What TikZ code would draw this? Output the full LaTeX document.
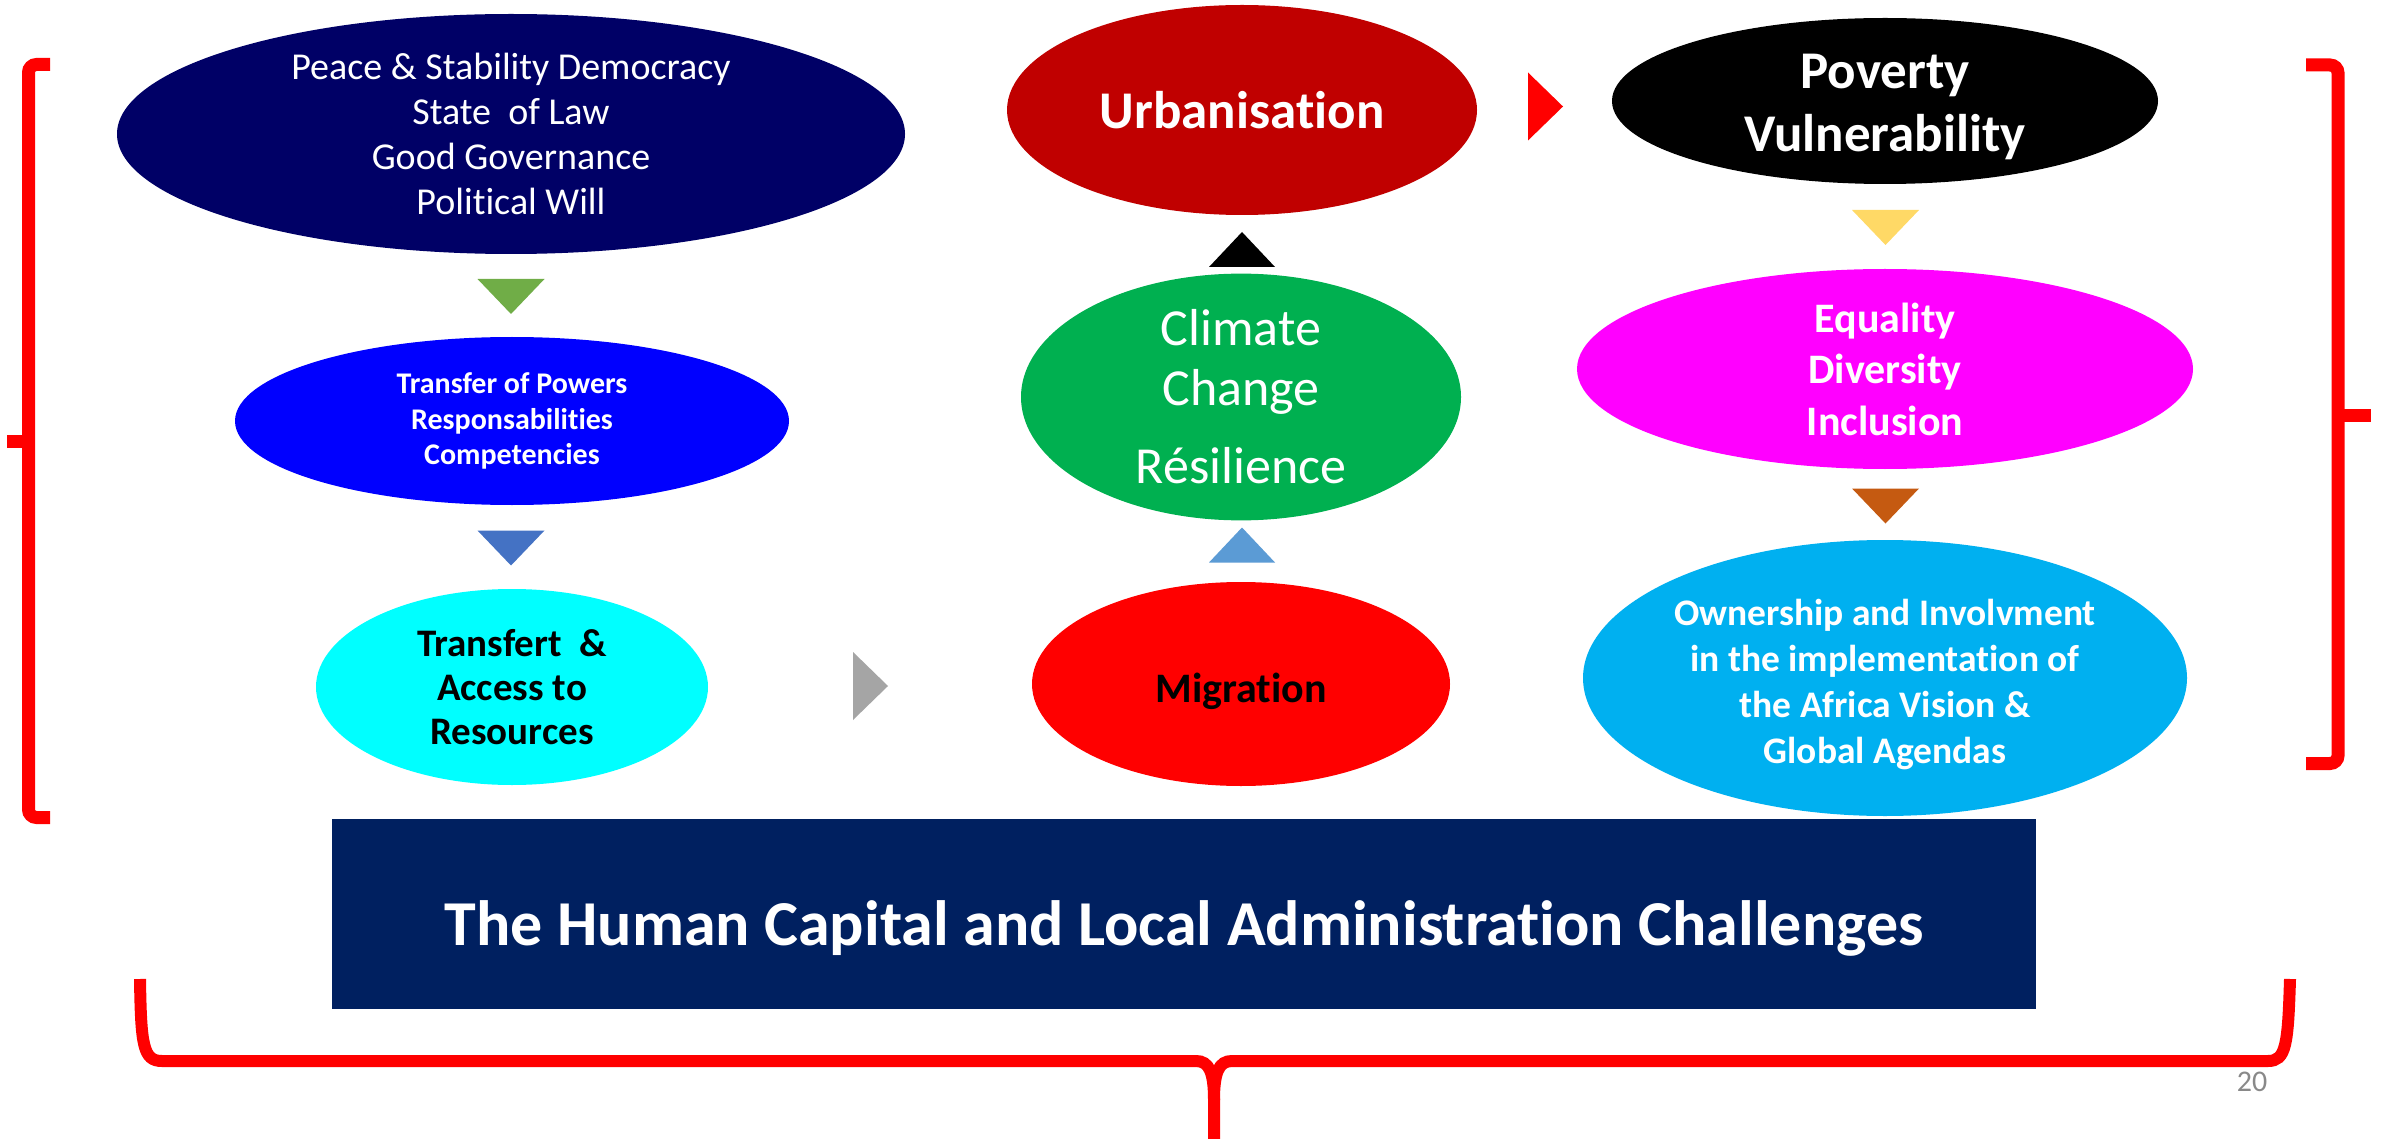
\documentclass[tikz,border=0pt]{standalone}
\usepackage{fontspec}
\setmainfont{Carlito}[Ligatures={NoCommon,NoContextual}]
\usetikzlibrary{shapes.geometric}
\definecolor{cNavy}{HTML}{000066}
\definecolor{cBlue}{HTML}{0000FF}
\definecolor{cCyan}{HTML}{00FFFF}
\definecolor{cRed}{HTML}{FF0000}
\definecolor{cGreen}{HTML}{00B050}
\definecolor{cDarkRed}{HTML}{C00000}
\definecolor{cMag}{HTML}{FF00FF}
\definecolor{cSky}{HTML}{00B0F0}
\definecolor{cBox}{HTML}{002060}
\definecolor{tGreen}{HTML}{70AD47}
\definecolor{tBlue}{HTML}{4472C4}
\definecolor{tGray}{HTML}{A5A5A5}
\definecolor{tLBlue}{HTML}{5B9BD5}
\definecolor{tYellow}{HTML}{FFD966}
\definecolor{tBrown}{HTML}{C55A11}
\definecolor{numGray}{HTML}{898989}
\tikzset{
  oval/.style={ellipse, inner sep=0pt, align=center},
  ovaltext/.style={inner sep=0pt, align=center},
  bracketline/.style={draw=cRed, line width=13pt},
  pics/tridown/.style={code={\fill (-33.5,-17.5) -- (33.5,-17.5) -- (0,17.5) -- cycle;}},
  pics/triup/.style={code={\fill (-33,17.5) -- (33,17.5) -- (0,-17.5) -- cycle;}},
  pics/triright/.style={code={\fill (-17.5,-34) -- (17.5,0) -- (-17.5,34) -- cycle;}},
}
\begin{document}
\begin{tikzpicture}[x=1pt,y=-1pt]
\useasboundingbox (0,0) rectangle (2385,1139);
\fill[white] (0,0) rectangle (2385,1139);

% left column
\node[oval, fill=cNavy, text=white, minimum width=788pt, minimum height=240pt,
  font=\fontsize{38}{45}\selectfont] (peace) at (511,134)
  {Peace \& Stability Democracy\\State\ \ of Law\\Good Governance\\Political Will};
\node[oval, fill=cBlue, text=white, minimum width=554pt, minimum height=168pt,
  font=\bfseries\fontsize{30}{35.5}\selectfont] (powers) at (512,421)
  {Transfer of Powers\\Responsabilities\\Competencies};
\node[oval, fill=cCyan, text=black, minimum width=392pt, minimum height=196pt,
  font=\bfseries\fontsize{39}{44}\selectfont] (resources) at (512,687)
  {Transfert\ \ \&\\Access to\\Resources};

% middle column
\node[oval, fill=cRed, minimum width=418pt, minimum height=204pt] (migration) at (1241,684) {};
\node[ovaltext, text=black, font=\bfseries\fontsize{42}{50}\selectfont] (migration-t)
  at ([yshift=-7pt]migration.center) {Migration};
\node[oval, fill=cGreen, text=white, minimum width=440pt, minimum height=224pt,
  font=\fontsize{52}{60}\selectfont] (climate) at (1241,397)
  {Climate\\Change\\[18pt]Résilience};
\node[oval, fill=cDarkRed, text=white, minimum width=470pt, minimum height=210pt,
  font=\bfseries\fontsize{53}{60}\selectfont] (urban) at (1242,110) {Urbanisation};

% right column
\node[oval, fill=black, minimum width=546pt, minimum height=166pt] (poverty) at (1885,101) {};
\node[ovaltext, text=white, font=\bfseries\fontsize{53}{63}\selectfont] (poverty-t)
  at ([yshift=-6pt]poverty.center) {Poverty\\Vulnerability};
\node[oval, fill=cMag, text=white, minimum width=616pt, minimum height=200pt,
  font=\bfseries\fontsize{42}{51.5}\selectfont] (equality) at (1885,369)
  {Equality\\Diversity\\Inclusion};
\node[oval, fill=cSky, minimum width=604pt, minimum height=276pt] (ownership) at (1885,678) {};
\node[ovaltext, text=white, font=\bfseries\fontsize{37.5}{46}\selectfont] (ownership-t)
  at ([yshift=-7pt]ownership.center)
  {Ownership and Involvment\\in the implementation of\\the Africa Vision \&\\Global Agendas};

% arrow triangles
\pic[fill=tGreen] at (511,296.5) {tridown};
\pic[fill=tBlue] at (511,548) {tridown};
\pic[fill=tGray] at (870.5,686) {triright};
\pic[fill=tLBlue] at (1242,545) {triup};
\pic[fill=black] at (1242,249.5) {triup};
\pic[fill=cRed] at (1545.5,106.5) {triright};
\pic[fill=tYellow] at (1885.5,227.5) {tridown};
\pic[fill=tBrown] at (1885.5,506) {tridown};

% title box
\node[fill=cBox, minimum width=1704pt, minimum height=190pt, inner sep=0pt] (box) at (1184,914) {};
\node[text=white, font=\bfseries\fontsize{64}{76}\selectfont, anchor=base] (title) at (1184,945)
  {The Human Capital and Local Administration Challenges};

% brackets
\coordinate (lt) at (28.5,64.5);
\coordinate (lb) at (28.5,817.5);
\draw[bracketline, rounded corners=8pt] (50,64.5) -- (lt) -- (lb) -- (50,817.5);
\draw[bracketline] (lt |- 0,441) -- (7,441);
\coordinate (rt) at (2338,65);
\coordinate (rb) at (2338,763.5);
\draw[bracketline, rounded corners=8pt] (2306,65) -- (rt) -- (rb) -- (2306,763.5);
\draw[bracketline] (rt |- 0,415) -- (2371,415);

\coordinate (bl) at (140,979);
\coordinate (br) at (2290,979);
\coordinate (bm) at (1214,1139);
\draw[draw=cRed, line width=12pt]
  (bl) .. controls (141,1045) and (143,1061) .. (162,1061) -- (1196,1061)
  .. controls (1209,1061) and (1214,1072) .. (1214,1100) -- (bm);
\draw[draw=cRed, line width=12pt]
  (br) .. controls (2288,1045) and (2286,1061) .. (2268,1061) -- (1232,1061)
  .. controls (1219,1061) and (1214,1072) .. (1214,1100);

\node[text=numGray, font=\fontsize{30}{36}\selectfont, anchor=base] (pagenum) at (2252,1091) {20};
\end{tikzpicture}
\end{document}
